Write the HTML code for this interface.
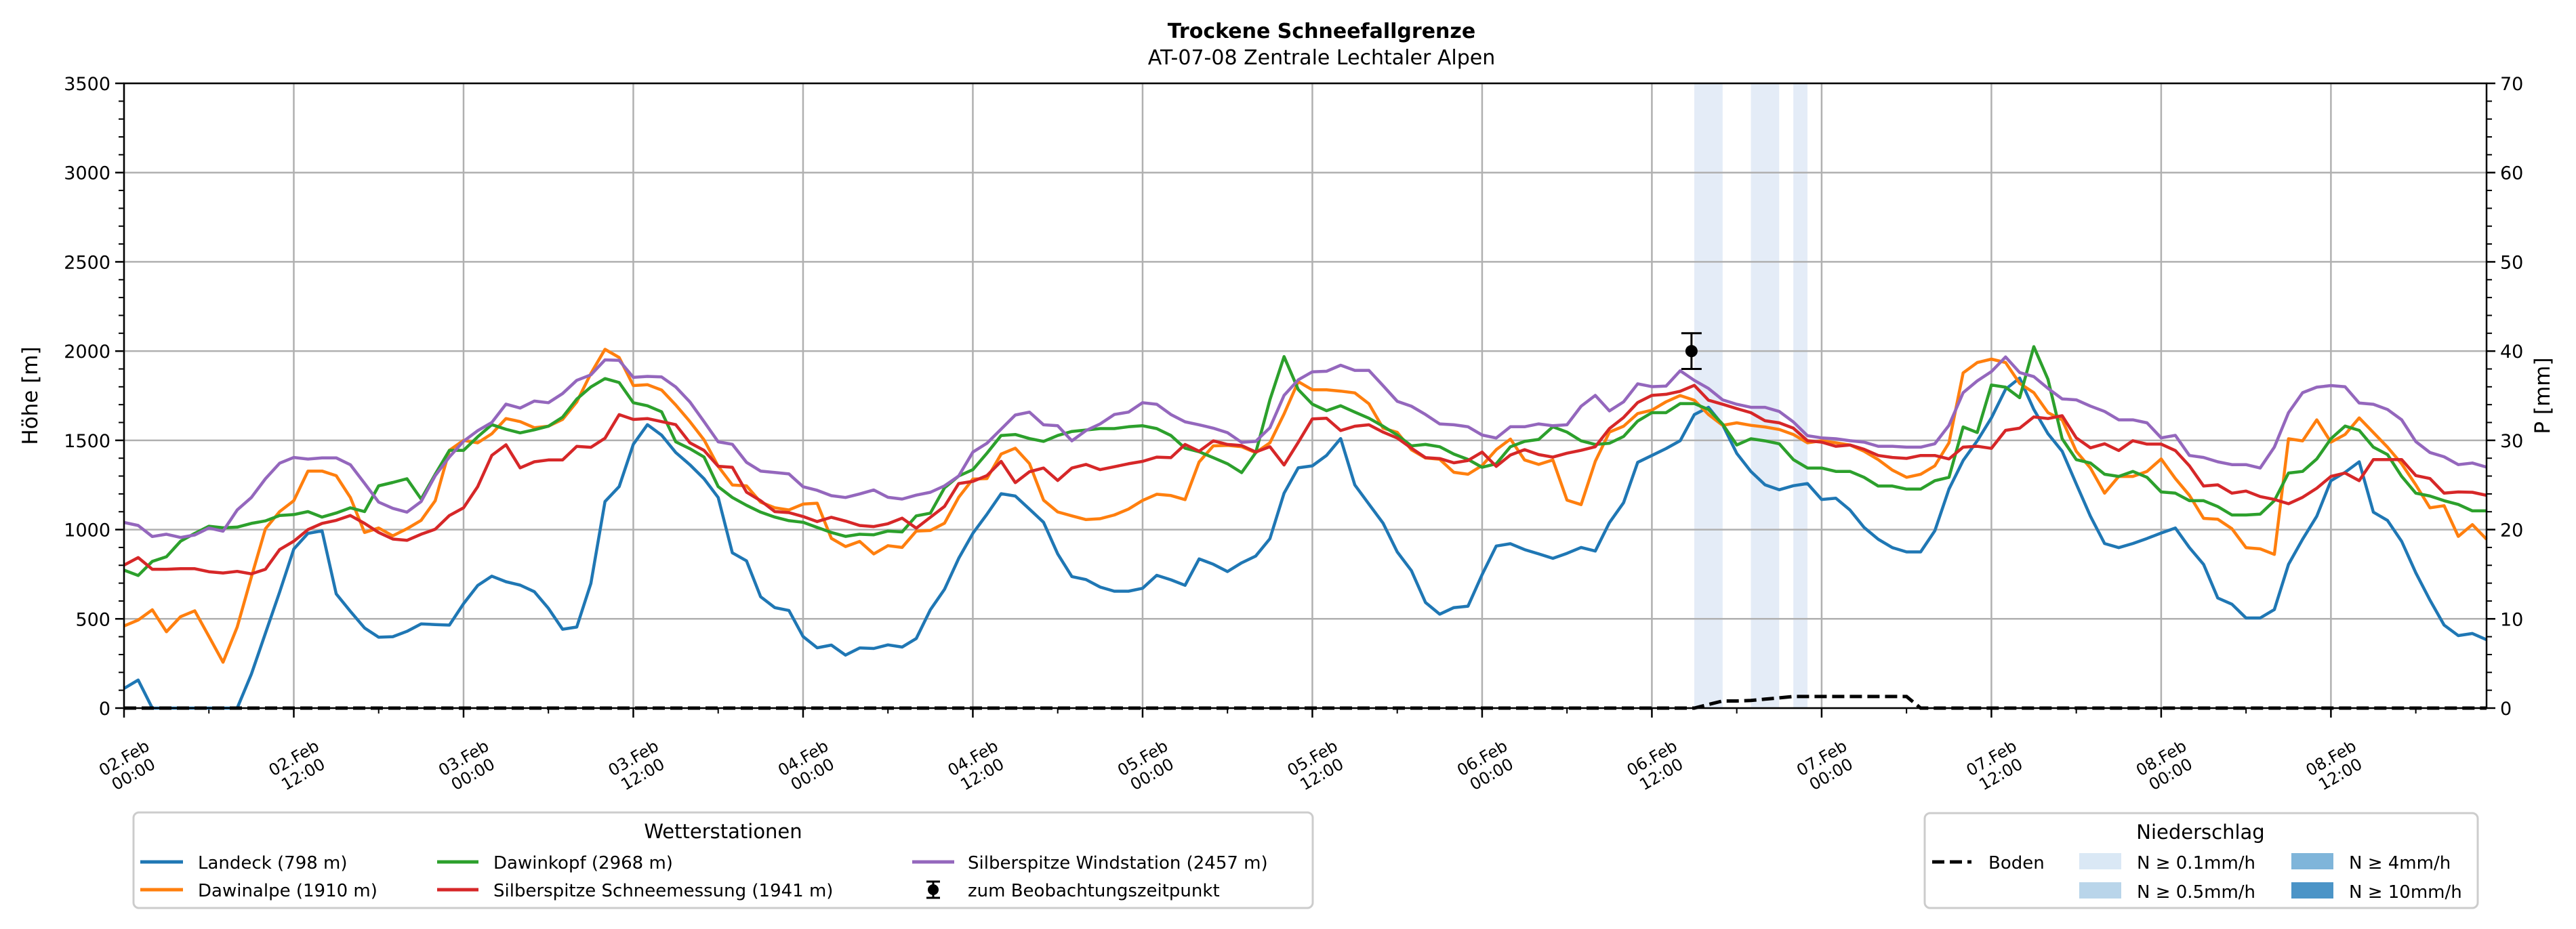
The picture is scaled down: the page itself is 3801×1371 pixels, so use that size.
<!DOCTYPE html>
<html><head><meta charset="utf-8"><style>
html,body{margin:0;padding:0;background:#fff;}
svg{display:block;font-family:"DejaVu Sans","Liberation Sans",sans-serif;}
</style></head><body>
<svg id="chart" width="3801" height="1371" viewBox="0 0 3801 1371" xmlns="http://www.w3.org/2000/svg">
<text x="1950" y="56" text-anchor="middle" font-size="30" font-weight="bold">Trockene Schneefallgrenze</text>
<text x="1950" y="95" text-anchor="middle" font-size="30">AT-07-08 Zentrale Lechtaler Alpen</text>
<g id="plot"></g>
<text transform="translate(55,584) rotate(-90)" text-anchor="middle" font-size="31">Höhe [m]</text>
<text transform="translate(3762,584) rotate(-90)" text-anchor="middle" font-size="31">P [mm]</text>

<g>
<rect x="197" y="1199" width="1740" height="141" rx="8" fill="#fff" stroke="#cccccc" stroke-width="3"/>
<text x="1067" y="1237" text-anchor="middle" font-size="29">Wetterstationen</text>
<g><line x1="207" y1="1272" x2="270" y2="1272" stroke="#1f77b4" stroke-width="5"/><text x="292" y="1282" font-size="26">Landeck (798 m)</text></g>
<g><line x1="207" y1="1313" x2="270" y2="1313" stroke="#ff7f0e" stroke-width="5"/><text x="292" y="1323" font-size="26">Dawinalpe (1910 m)</text></g>
<g><line x1="645" y1="1272" x2="706" y2="1272" stroke="#2ca02c" stroke-width="5"/><text x="728" y="1282" font-size="26">Dawinkopf (2968 m)</text></g>
<g><line x1="645" y1="1313" x2="706" y2="1313" stroke="#d62728" stroke-width="5"/><text x="728" y="1323" font-size="26">Silberspitze Schneemessung (1941 m)</text></g>
<g><line x1="1346" y1="1272" x2="1408" y2="1272" stroke="#9467bd" stroke-width="5"/><text x="1428" y="1282" font-size="26">Silberspitze Windstation (2457 m)</text></g>
<g><line x1="1377" y1="1301" x2="1377" y2="1325" stroke="#000" stroke-width="3"/><line x1="1367" y1="1301" x2="1387" y2="1301" stroke="#000" stroke-width="3"/><line x1="1367" y1="1325" x2="1387" y2="1325" stroke="#000" stroke-width="3"/><circle cx="1377" cy="1313" r="8" fill="#000"/><text x="1428" y="1323" font-size="26">zum Beobachtungszeitpunkt</text></g>
</g>

<g>
<rect x="2840" y="1200" width="816" height="140" rx="8" fill="#fff" stroke="#cccccc" stroke-width="3"/>
<text x="3247" y="1238" text-anchor="middle" font-size="29">Niederschlag</text>
<g><line x1="2851" y1="1272" x2="2909" y2="1272" stroke="#000" stroke-width="5" stroke-dasharray="18,8"/><text x="2934" y="1282" font-size="26">Boden</text></g>
<g><rect x="3068" y="1259" width="62" height="24" fill="#dae8f5"/><text x="3153" y="1282" font-size="26">N ≥ 0.1mm/h</text></g>
<g><rect x="3068" y="1302" width="62" height="24" fill="#b9d5ea"/><text x="3153" y="1325" font-size="26">N ≥ 0.5mm/h</text></g>
<g><rect x="3381" y="1259" width="62" height="24" fill="#7fb5da"/><text x="3466" y="1282" font-size="26">N ≥ 4mm/h</text></g>
<g><rect x="3381" y="1302" width="62" height="24" fill="#4b94c7"/><text x="3466" y="1325" font-size="26">N ≥ 10mm/h</text></g>
</g>
</svg>
<script>
const landeck=[110,157,0,0,0,0,0,0,0,190,420,650,891,979,993,640,542,449,397,400,430,472,468,465,585,687,739,708,689,652,559,442,454,699,1157,1241,1478,1588,1529,1432,1363,1285,1180,870,825,624,563,547,401,338,353,297,337,334,354,342,390,551,666,839,979,1086,1201,1188,1115,1041,864,737,720,678,655,655,671,744,719,688,836,806,765,814,852,949,1204,1346,1357,1415,1510,1250,1143,1036,875,770,592,526,563,571,748,908,921,888,864,839,867,900,880,1039,1151,1377,1415,1454,1498,1644,1685,1587,1427,1326,1251,1223,1246,1258,1169,1176,1110,1012,946,899,875,875,993,1227,1387,1497,1626,1786,1849,1673,1537,1439,1256,1075,922,899,922,950,981,1009,899,805,617,582,505,505,552,805,946,1075,1274,1321,1380,1098,1051,934,758,605,465,406,418,383];
const dawinalpe=[460,493,551,428,512,545,402,257,454,734,1005,1101,1162,1328,1328,1302,1180,984,1009,965,1005,1052,1162,1444,1500,1486,1537,1622,1605,1571,1579,1617,1715,1875,2010,1964,1807,1812,1782,1698,1605,1503,1355,1250,1245,1154,1122,1110,1143,1148,951,905,934,864,910,900,992,995,1036,1181,1283,1286,1423,1456,1370,1165,1099,1077,1056,1061,1082,1115,1163,1198,1191,1168,1379,1469,1472,1464,1431,1486,1648,1829,1783,1783,1776,1766,1705,1568,1545,1447,1401,1394,1321,1310,1359,1448,1507,1390,1365,1390,1165,1140,1382,1546,1579,1650,1669,1716,1751,1725,1645,1584,1598,1584,1575,1561,1533,1486,1498,1486,1474,1439,1392,1333,1293,1310,1357,1486,1878,1936,1955,1936,1819,1767,1655,1615,1439,1345,1204,1298,1298,1326,1396,1286,1192,1063,1058,1005,899,892,861,1509,1497,1615,1490,1533,1626,1544,1462,1368,1251,1122,1134,962,1028,946];
const dawinkopf=[773,743,822,848,935,979,1019,1010,1014,1035,1049,1079,1084,1101,1070,1093,1122,1101,1245,1264,1285,1171,1310,1444,1444,1520,1588,1562,1542,1559,1579,1630,1731,1799,1846,1824,1711,1694,1660,1492,1453,1407,1241,1180,1136,1098,1070,1050,1041,1012,984,962,974,971,992,987,1077,1092,1234,1300,1336,1428,1527,1533,1510,1494,1527,1550,1558,1566,1566,1576,1582,1566,1527,1456,1436,1403,1369,1319,1431,1727,1969,1785,1703,1666,1694,1658,1624,1579,1530,1469,1477,1464,1423,1393,1349,1369,1464,1494,1505,1576,1546,1497,1477,1484,1522,1608,1655,1655,1706,1706,1673,1591,1474,1509,1497,1481,1392,1345,1345,1326,1326,1293,1244,1244,1227,1227,1274,1293,1575,1544,1810,1798,1739,2025,1842,1509,1392,1373,1310,1298,1326,1293,1211,1204,1162,1162,1129,1082,1082,1087,1162,1317,1326,1396,1509,1580,1556,1462,1420,1298,1204,1188,1162,1141,1105,1105];
const silberSchnee=[801,843,778,778,781,781,764,757,766,752,778,888,935,1000,1035,1052,1079,1035,984,947,940,974,1002,1079,1122,1241,1416,1475,1346,1380,1390,1390,1466,1461,1512,1644,1617,1622,1605,1588,1486,1444,1355,1349,1210,1162,1101,1095,1073,1045,1069,1048,1023,1017,1033,1064,1008,1069,1130,1258,1270,1303,1382,1263,1324,1345,1275,1345,1365,1336,1352,1369,1382,1406,1403,1477,1439,1497,1477,1471,1435,1464,1362,1489,1620,1624,1555,1579,1587,1546,1513,1456,1403,1398,1374,1387,1434,1354,1418,1448,1420,1406,1428,1444,1464,1566,1628,1712,1752,1758,1775,1808,1725,1702,1678,1655,1610,1598,1568,1498,1490,1467,1474,1450,1415,1404,1399,1415,1415,1396,1462,1467,1455,1556,1568,1631,1622,1638,1514,1458,1481,1443,1498,1479,1479,1443,1357,1244,1251,1204,1216,1185,1169,1145,1181,1232,1298,1317,1274,1392,1392,1392,1303,1286,1204,1211,1209,1192];
const silberWind=[1040,1023,961,974,956,970,1009,991,1110,1180,1285,1372,1404,1395,1402,1402,1363,1259,1154,1119,1098,1157,1302,1407,1495,1554,1600,1703,1681,1720,1711,1762,1836,1867,1951,1948,1853,1858,1855,1799,1715,1605,1492,1478,1377,1328,1320,1312,1240,1220,1190,1180,1200,1222,1181,1171,1193,1209,1245,1300,1434,1484,1563,1642,1658,1587,1582,1497,1555,1592,1645,1658,1711,1702,1645,1604,1587,1568,1543,1489,1494,1571,1752,1839,1884,1887,1921,1892,1892,1806,1719,1691,1645,1592,1587,1576,1530,1513,1576,1576,1592,1582,1587,1691,1752,1665,1716,1817,1801,1804,1890,1836,1791,1727,1702,1685,1685,1662,1603,1526,1514,1509,1498,1490,1467,1467,1462,1462,1481,1584,1767,1833,1885,1967,1880,1857,1791,1732,1727,1692,1662,1615,1615,1598,1514,1528,1415,1404,1380,1364,1364,1345,1462,1655,1767,1798,1807,1800,1709,1702,1673,1615,1493,1432,1408,1364,1373,1350];
const bodenHours=[0,111,112,113,114,115,116,117,118,126,127,167];
const bodenMM=[0,0,0.4,0.8,0.8,0.85,1.0,1.15,1.3,1.3,0,0];
const precipStart=[111,115,118];
const precipEnd=[113,117,119];
const obsHour=[110.8];
const obsValue=[2000];
const obsErr=[100];
const yTicks=[0,500,1000,1500,2000,2500,3000,3500];
const pTicks=[0,10,20,30,40,50,60,70];
const xTickHours=[0,12,24,36,48,60,72,84,96,108,120,132,144,156];
const xTickDays=["02.Feb","02.Feb","03.Feb","03.Feb","04.Feb","04.Feb","05.Feb","05.Feb","06.Feb","06.Feb","07.Feb","07.Feb","08.Feb","08.Feb"];
const xTickTimes=["00:00","12:00","00:00","12:00","00:00","12:00","00:00","12:00","00:00","12:00","00:00","12:00","00:00","12:00"];

const L=183,R=3669,T=123,B=1045,XMAX=167,YMAX=3500,PMAX=70;
const X=h=>L+h*(R-L)/XMAX;
const Y=v=>B-v*(B-T)/YMAX;
const YP=p=>B-p*(B-T)/PMAX;
const NS="http://www.w3.org/2000/svg";
const plot=document.getElementById('plot');
function mk(tag,attrs,parent){const e=document.createElementNS(NS,tag);for(const k in attrs)e.setAttribute(k,attrs[k]);(parent||plot).appendChild(e);return e;}

for(let i=0;i<precipStart.length;i++){
  const r=mk('rect',{x:X(precipStart[i]),y:T,width:X(precipEnd[i])-X(precipStart[i]),height:B-T,fill:'#e4ecf7'});
  
  
}
yTicks.forEach(v=>{
  const g=mk('line',{x1:L,x2:R,y1:Y(v),y2:Y(v),stroke:'#b0b0b0','stroke-width':2.5});
  
  
  mk('line',{x1:L-13,x2:L,y1:Y(v),y2:Y(v),stroke:'#000','stroke-width':2.5});
  const t=mk('text',{x:L-20,y:Y(v)+10,'text-anchor':'end','font-size':27});
  t.textContent=v;
  
  
});
for(let v=0;v<=YMAX;v+=100){if(v%500)mk('line',{x1:L-8,x2:L,y1:Y(v),y2:Y(v),stroke:'#000','stroke-width':2});}
pTicks.forEach(p=>{
  mk('line',{x1:R,x2:R+13,y1:YP(p),y2:YP(p),stroke:'#000','stroke-width':2.5});
  const t=mk('text',{x:R+20,y:YP(p)+10,'font-size':27});
  t.textContent=p;
  
  
});
for(let p=0;p<=PMAX;p+=2){if(p%10)mk('line',{x1:R,x2:R+8,y1:YP(p),y2:YP(p),stroke:'#000','stroke-width':2});}
xTickHours.forEach((h,i)=>{
  const g=mk('line',{x1:X(h),x2:X(h),y1:T,y2:B,stroke:'#b0b0b0','stroke-width':2.5});
  
  
  mk('line',{x1:X(h),x2:X(h),y1:B,y2:B+14,stroke:'#000','stroke-width':2.5});
  const t=mk('text',{transform:`translate(${X(h)+6},${B+84}) rotate(-30)`,'text-anchor':'middle','font-size':24});
  
  
  const a=mk('tspan',{x:0,dy:'-0.15em'},t);a.textContent=xTickDays[i];
  const b=mk('tspan',{x:0,dy:'1.15em'},t);b.textContent=xTickTimes[i];
});
for(let h=6;h<XMAX;h+=12)mk('line',{x1:X(h),x2:X(h),y1:B,y2:B+8,stroke:'#000','stroke-width':2});

const series=[[landeck,'#1f77b4','line-landeck'],[dawinalpe,'#ff7f0e','line-dawinalpe'],[dawinkopf,'#2ca02c','line-dawinkopf'],[silberSchnee,'#d62728','line-silberspitze-schnee'],[silberWind,'#9467bd','line-silberspitze-wind']];
series.forEach(([d,c,n])=>{
  const pts=d.map((v,i)=>X(i).toFixed(1)+','+Y(v).toFixed(1)).join(' ');
  const p=mk('polyline',{points:pts,fill:'none',stroke:c,'stroke-width':4.5,'stroke-linejoin':'round'});
  
  
});
const bp=bodenHours.map((h,i)=>X(h).toFixed(1)+','+YP(bodenMM[i]).toFixed(1)).join(' ');
const bl=mk('polyline',{points:bp,fill:'none',stroke:'#000','stroke-width':5,'stroke-dasharray':'18,8'});



mk('rect',{x:L,y:T,width:R-L,height:B-T,fill:'none',stroke:'#000','stroke-width':2.5});

obsHour.forEach((h,i)=>{
  const g=mk('g',{});
  
  
  const x=X(h),y0=Y(obsValue[i]-obsErr[i]),y1=Y(obsValue[i]+obsErr[i]);
  mk('line',{x1:x,x2:x,y1:y0,y2:y1,stroke:'#000','stroke-width':3},g);
  mk('line',{x1:x-15,x2:x+15,y1:y0,y2:y0,stroke:'#000','stroke-width':3},g);
  mk('line',{x1:x-15,x2:x+15,y1:y1,y2:y1,stroke:'#000','stroke-width':3},g);
  mk('circle',{cx:x,cy:Y(obsValue[i]),r:9,fill:'#000'},g);
});
</script>
</body></html>
